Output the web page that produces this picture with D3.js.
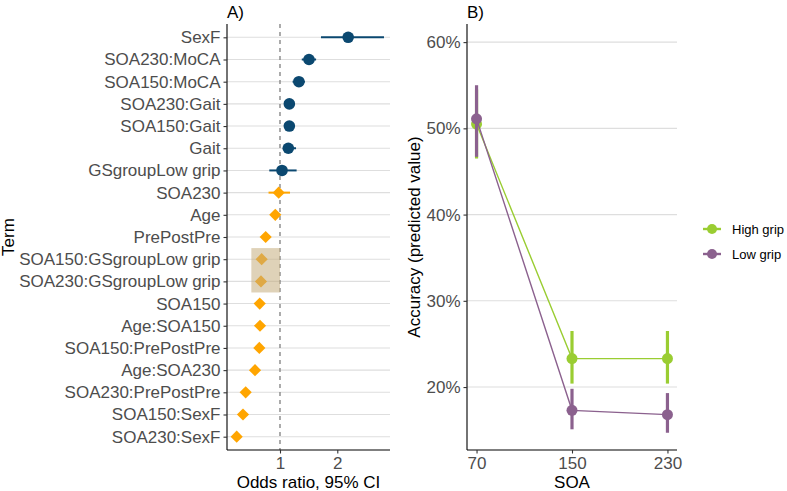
<!DOCTYPE html>
<html><head><meta charset="utf-8">
<script src="https://cdn.jsdelivr.net/npm/d3@7"></script>
<style>
html,body{margin:0;padding:0;background:#fff;}
text{font-family:"Liberation Sans",Arial,sans-serif;}
</style></head>
<body>
<svg id="chart" width="787" height="491"></svg>
<script>
// ---- Panel A data ----
const terms = ["SexF","SOA230:MoCA","SOA150:MoCA","SOA230:Gait","SOA150:Gait","Gait","GSgroupLow grip","SOA230","Age","PrePostPre","SOA150:GSgroupLow grip","SOA230:GSgroupLow grip","SOA150","Age:SOA150","SOA150:PrePostPre","Age:SOA230","SOA230:PrePostPre","SOA150:SexF","SOA230:SexF"];
const oddsRatio = [2.19,1.506,1.33,1.163,1.163,1.145,1.035,0.977,0.918,0.75,0.68,0.668,0.646,0.651,0.639,0.564,0.401,0.354,0.244];
const ciLow  = [1.715,1.38,1.22,1.08,1.10,1.05,0.813,0.80,0.87,0.72,0.60,0.59,0.60,0.61,0.60,0.53,0.37,0.32,0.21];
const ciHigh = [2.815,1.63,1.435,1.26,1.23,1.28,1.29,1.175,0.97,0.78,0.76,0.75,0.70,0.69,0.68,0.60,0.43,0.39,0.28];
const highlightTerms = ["SOA150:GSgroupLow grip","SOA230:GSgroupLow grip"];
const highlightRange = [0.5, 1.0];
const xTicksA = [1, 2];
const xDomainA = [0.075, 2.92];

// ---- Panel B data ----
const soa = [70, 150, 230];
const groups = ["High grip","Low grip"];
const accHigh = [0.505, 0.233, 0.233];
const accHighLow = [0.465, 0.204, 0.204];
const accHighUp = [0.545, 0.265, 0.265];
const accLow = [0.511, 0.173, 0.168];
const accLowLow = [0.467, 0.151, 0.147];
const accLowUp = [0.550, 0.198, 0.193];
const yTicksB = [0.2, 0.3, 0.4, 0.5, 0.6];
const yDomainB = [0.127, 0.621];

const svg = d3.select("#chart");
const tickCol = "#4d4d4d";
const gridCol = "#dedede";
const fs = 17;

// ================= Panel A =================
const A = {l:227, r:390, t:24, b:450};
const xA = d3.scaleLinear().domain(xDomainA).range([A.l, A.r]);
const yA = d3.scalePoint().domain(terms).range([A.t, A.b]).padding(0.6);
const blue = "#0b4870", orange = "#ffa500";

const gA = svg.append("g");
gA.selectAll("line.grid").data(terms).join("line")
  .attr("x1", A.l).attr("x2", A.r)
  .attr("y1", d => yA(d)).attr("y2", d => yA(d))
  .attr("stroke", gridCol).attr("stroke-width", 1.1);
gA.append("line").attr("x1", xA(1)).attr("x2", xA(1)).attr("y1", A.t).attr("y2", A.b)
  .attr("stroke", "#7f7f7f").attr("stroke-width", 1.3).attr("stroke-dasharray", "4,4");

const rows = terms.map((t,i) => ({t, est:oddsRatio[i], lo:ciLow[i], hi:ciHigh[i], pos: oddsRatio[i] >= 1}));
gA.selectAll("line.ci").data(rows).join("line")
  .attr("x1", d => xA(d.lo)).attr("x2", d => xA(d.hi))
  .attr("y1", d => yA(d.t)).attr("y2", d => yA(d.t))
  .attr("stroke", d => d.pos ? blue : orange).attr("stroke-width", 2);
gA.selectAll("circle.pt").data(rows.filter(d => d.pos)).join("circle")
  .attr("cx", d => xA(d.est)).attr("cy", d => yA(d.t)).attr("r", 5.8).attr("fill", blue);
gA.selectAll("path.pt").data(rows.filter(d => !d.pos)).join("path")
  .attr("d", d3.symbol(d3.symbolSquare, 74)())
  .attr("transform", d => `translate(${xA(d.est)},${yA(d.t)}) rotate(45)`)
  .attr("fill", orange);
const step = yA.step();
const hy = highlightTerms.map(t => yA(t));
gA.append("rect")
  .attr("x", xA(highlightRange[0])).attr("width", xA(highlightRange[1]) - xA(highlightRange[0]))
  .attr("y", d3.min(hy) - step/2).attr("height", d3.max(hy) - d3.min(hy) + step)
  .attr("fill", "#c4ad7e").attr("fill-opacity", 0.55);

const axA_y = gA.append("g").attr("transform", `translate(${A.l},0)`)
  .call(d3.axisLeft(yA).tickSize(3.5).tickPadding(3));
const axA_x = gA.append("g").attr("transform", `translate(0,${A.b})`)
  .call(d3.axisBottom(xA).tickValues(xTicksA).tickFormat(d3.format("d")).tickSize(3.5).tickPadding(3));
[axA_y, axA_x].forEach(ax => {
  ax.select(".domain").attr("stroke", "#000").attr("stroke-width", 1.1)
    .attr("d", ax === axA_y ? `M0,${A.t}V${A.b}` : `M${A.l},0H${A.r}`);
  ax.selectAll(".tick line").attr("stroke", "#333").attr("stroke-width", 1.1);
  ax.selectAll(".tick text").attr("fill", tickCol).style("font-size", fs + "px")
    .style("font-family", '"Liberation Sans",Arial,sans-serif');
});
axA_x.selectAll(".tick text").attr("dy", "0.71em");

gA.append("text").attr("x", (A.l + A.r)/2).attr("y", 488).attr("text-anchor", "middle")
  .style("font-size", fs + "px").text("Odds ratio, 95% CI");
gA.append("text").attr("transform", `translate(14,${(A.t + A.b)/2}) rotate(-90)`)
  .attr("text-anchor", "middle").style("font-size", fs + "px").text("Term");
gA.append("text").attr("x", A.l).attr("y", 18).style("font-size", fs + "px").text("A)");

// ================= Panel B =================
const B = {l:467, r:677, t:24, b:450};
const xB = d3.scaleLinear().domain([62, 238]).range([B.l, B.r]);
const yB = d3.scaleLinear().domain(yDomainB).range([B.b, B.t]);
const green = "#9acd32", purple = "#8b618e";
const gB = svg.append("g");
gB.selectAll("line.grid").data(yTicksB).join("line")
  .attr("x1", B.l).attr("x2", B.r).attr("y1", d => yB(d)).attr("y2", d => yB(d))
  .attr("stroke", gridCol).attr("stroke-width", 1.1);

const series = [
  {name: groups[0], col: green, v: accHigh, lo: accHighLow, hi: accHighUp},
  {name: groups[1], col: purple, v: accLow, lo: accLowLow, hi: accLowUp}
];
series.forEach(s => {
  const pts = soa.map((x,i) => ({x, v:s.v[i], lo:s.lo[i], hi:s.hi[i]}));
  const g = gB.append("g");
  g.append("path").datum(pts)
    .attr("d", d3.line().x(d => xB(d.x)).y(d => yB(d.v)))
    .attr("fill", "none").attr("stroke", s.col).attr("stroke-width", 1.4);
  g.selectAll("line.eb").data(pts).join("line")
    .attr("x1", d => xB(d.x)).attr("x2", d => xB(d.x))
    .attr("y1", d => yB(d.lo)).attr("y2", d => yB(d.hi))
    .attr("stroke", s.col).attr("stroke-width", 3.2);
  g.selectAll("circle").data(pts).join("circle")
    .attr("cx", d => xB(d.x)).attr("cy", d => yB(d.v)).attr("r", 5.5).attr("fill", s.col);
});

const axB_y = gB.append("g").attr("transform", `translate(${B.l},0)`)
  .call(d3.axisLeft(yB).tickValues(yTicksB).tickFormat(d3.format(".0%")).tickSize(3.5).tickPadding(3));
const axB_x = gB.append("g").attr("transform", `translate(0,${B.b})`)
  .call(d3.axisBottom(xB).tickValues(soa).tickFormat(d3.format("d")).tickSize(3.5).tickPadding(3));
[axB_y, axB_x].forEach(ax => {
  ax.select(".domain").attr("stroke", "#000").attr("stroke-width", 1.1)
    .attr("d", ax === axB_y ? `M0,${B.t}V${B.b}` : `M${B.l},0H${B.r}`);
  ax.selectAll(".tick line").attr("stroke", "#333").attr("stroke-width", 1.1);
  ax.selectAll(".tick text").attr("fill", tickCol).style("font-size", fs + "px")
    .style("font-family", '"Liberation Sans",Arial,sans-serif');
});
axB_x.selectAll(".tick text").attr("dy", "0.71em");

gB.append("text").attr("x", xB(150)).attr("y", 488).attr("text-anchor", "middle")
  .style("font-size", fs + "px").text("SOA");
gB.append("text").attr("transform", `translate(420,${(B.t + B.b)/2}) rotate(-90)`)
  .attr("text-anchor", "middle").style("font-size", fs + "px").text("Accuracy (predicted value)");
gB.append("text").attr("x", B.l).attr("y", 18).style("font-size", fs + "px").text("B)");

// legend
const leg = svg.append("g");
series.forEach((s, i) => {
  const y = 229 + i * 25;
  leg.append("line").attr("x1", 703).attr("x2", 721).attr("y1", y).attr("y2", y)
    .attr("stroke", s.col).attr("stroke-width", 2.4);
  leg.append("circle").attr("cx", 712).attr("cy", y).attr("r", 5).attr("fill", s.col);
  leg.append("text").attr("x", 732).attr("y", y).attr("dy", "0.35em")
    .style("font-size", "13px").attr("fill", "#000").text(s.name);
});
</script>
</body></html>
